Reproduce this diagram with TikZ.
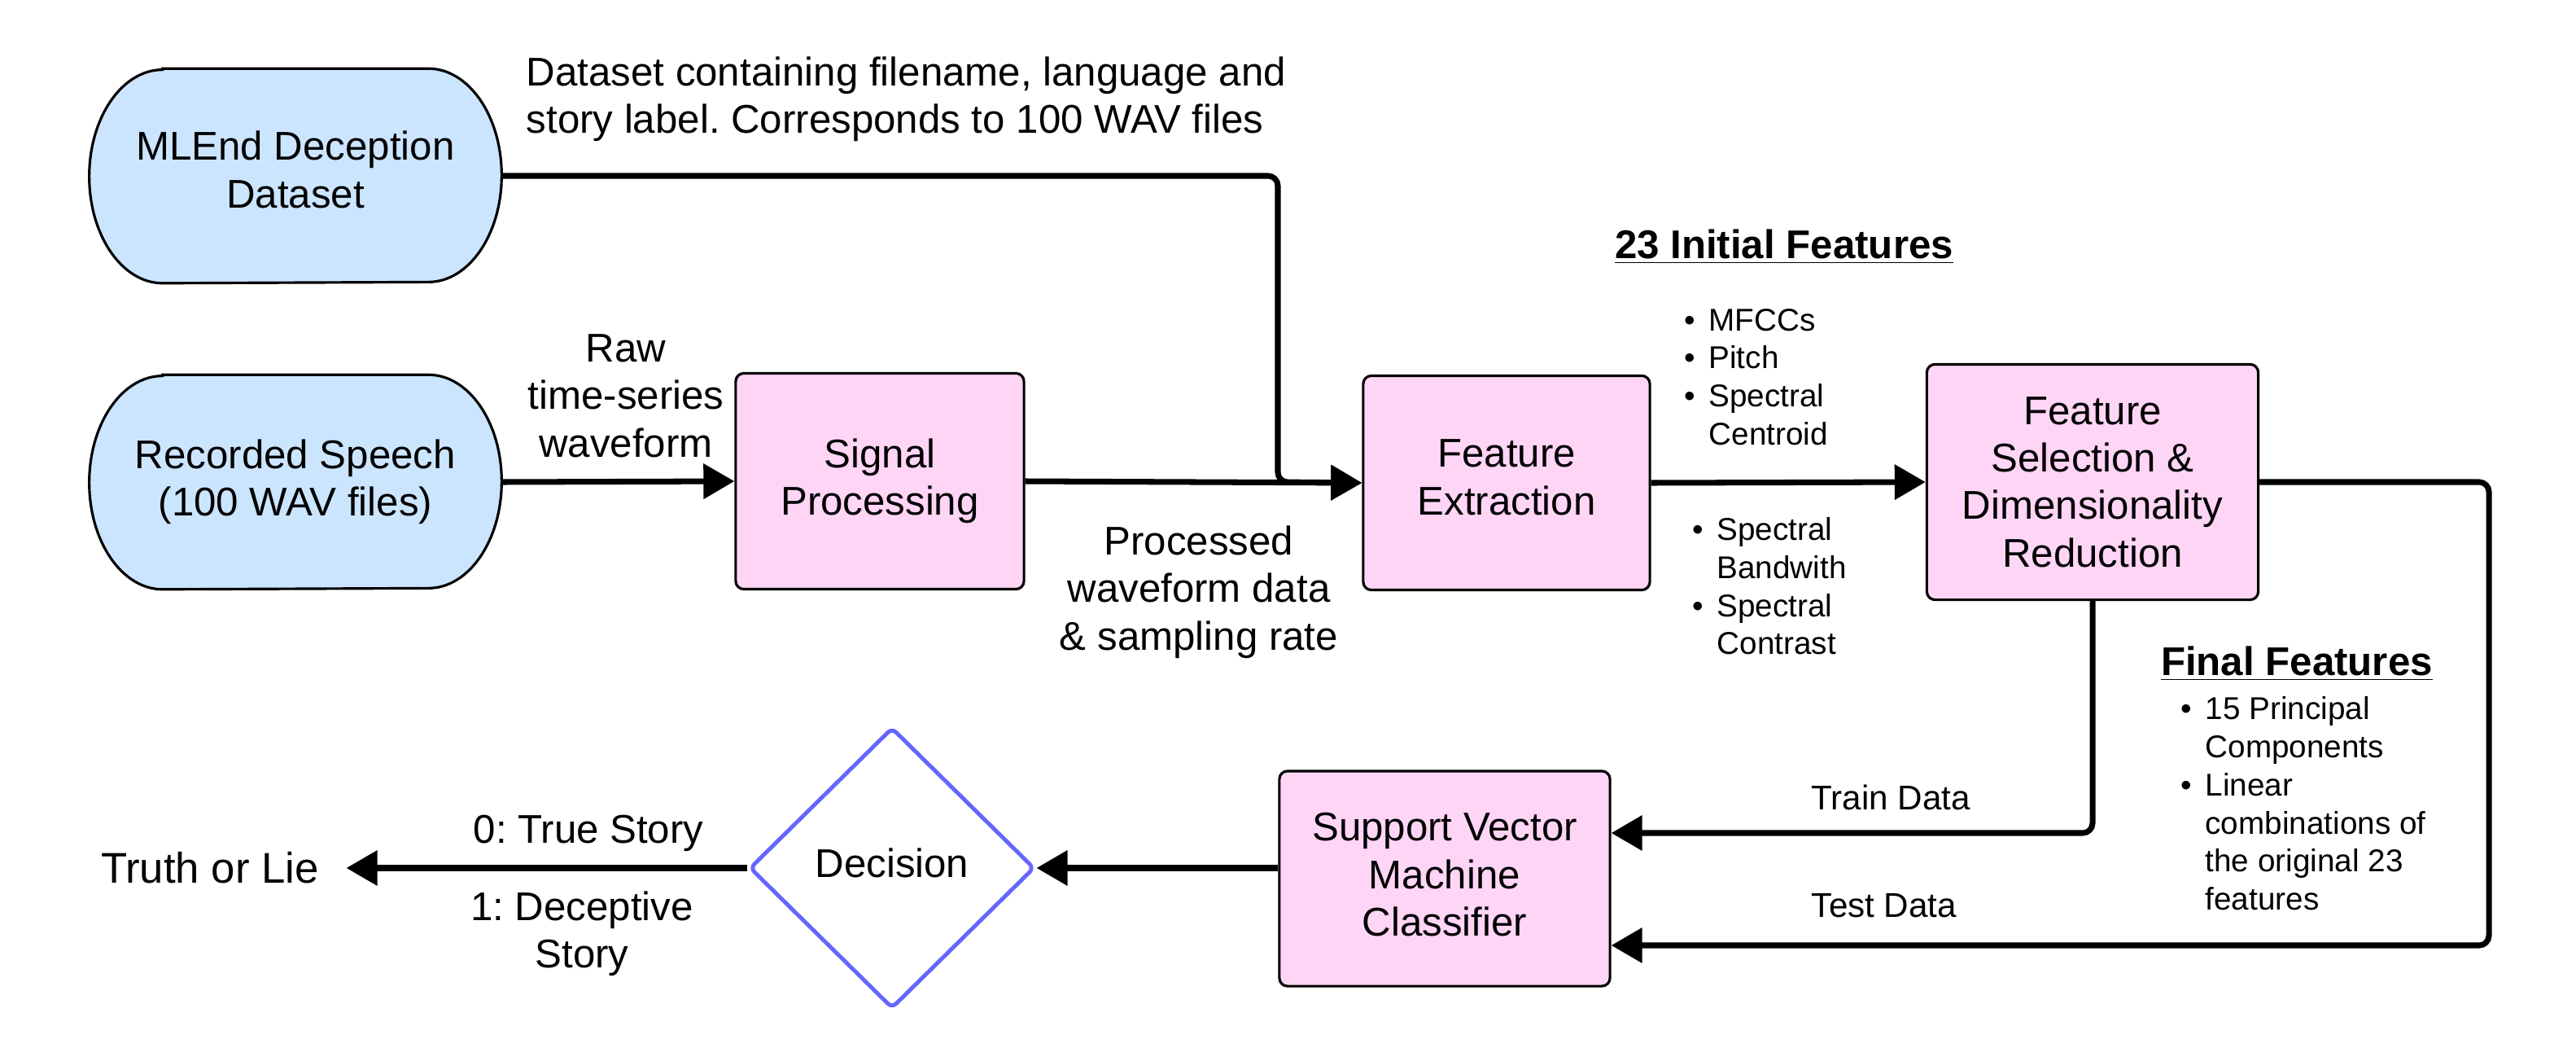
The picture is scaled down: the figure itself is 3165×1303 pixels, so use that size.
\documentclass[tikz,border=0pt]{standalone}
\usepackage{fontspec}
\setmainfont{Liberation Sans}
\usetikzlibrary{shapes.geometric,arrows.meta,calc,backgrounds}
\definecolor{bluefill}{HTML}{CCE5FF}
\definecolor{pinkfill}{HTML}{FFD5F6}
\definecolor{decblue}{HTML}{6666FF}
\newcommand\fbig{\fontsize{14}{16.6}\selectfont}
\newcommand\fmid{\fontsize{12}{14.4}\selectfont}
\newcommand\fsmall{\fontsize{11}{13.3}\selectfont}
\newcommand\bu{\makebox[8.5pt][l]{•}}
\newcommand\nb{\hspace*{8.5pt}}
\newcommand\dn[1]{\rule[-#1]{0pt}{0pt}}
\newcommand\stadiumpath[1]{%
 \path[draw=black,line width=0.9pt,fill=bluefill]
  ($(#1.north west)+(0.9cm,0)$) -- ($(#1.north east)+(-0.9cm,0)$)
  arc[start angle=90,end angle=-90,x radius=0.9cm,y radius=1.31cm]
  -- ($(#1.south west)+(0.9cm,0)$)
  arc[start angle=270,end angle=90,x radius=0.9cm,y radius=1.31cm] -- cycle;}
\tikzset{
 stad/.style={align=center,font=\fbig,inner sep=0,minimum width=5.05cm,minimum height=2.62cm},
 proc/.style={draw,line width=0.9pt,fill=pinkfill,rounded corners=0.1cm,align=center,font=\fbig,inner sep=0},
 conn/.style={line width=2pt,-{Triangle[length=0.38cm,width=0.42cm]},rounded corners=0.12cm},
 lbl/.style={align=center,font=\fbig,inner sep=0},
 mlab/.style={align=center,font=\fmid,inner sep=0},
 head/.style={font=\fontsize{14}{16.8}\selectfont\bfseries,inner sep=0},
 blist/.style={align=left,font=\fsmall,inner sep=0}
}
\begin{document}
\frenchspacing
\begin{tikzpicture}[x=0.01cm,y=0.01cm]
\useasboundingbox (0,0) rectangle (3165,-1303);
\node[stad] (mled) at (363,-216) {MLEnd Deception\\Dataset\dn{0.16cm}};
\node[stad] (rs) at (363,-592) {Recorded Speech\\(100 WAV files)\dn{0.1cm}};
\begin{pgfonlayer}{background}
\stadiumpath{mled}
\stadiumpath{rs}
\end{pgfonlayer}
\node[proc,minimum width=3.54cm,minimum height=2.65cm] (sp) at (1081,-591) {Signal\\Processing\dn{0.08cm}};
\node[proc,minimum width=3.52cm,minimum height=2.63cm] (fe) at (1851,-593) {Feature\\Extraction\dn{0.14cm}};
\node[proc,minimum width=4.07cm,minimum height=2.89cm] (fs) at (2571,-592) {Feature\\Selection \&\\Dimensionality\\Reduction};
\node[proc,minimum width=4.06cm,minimum height=2.64cm] (svm) at (1775,-1079) {Support Vector\\Machine\\Classifier\dn{0.1cm}};
\node[diamond,draw=decblue,line width=1.4pt,rounded corners=2pt,minimum width=3.5cm,minimum height=3.45cm,inner sep=0,font=\fbig] (dec) at (1096,-1066) {Decision\dn{0.12cm}};
\node[font=\fontsize{15}{18}\selectfont,inner sep=0] (truth) at (258,-1066) {Truth or Lie};

\coordinate (j1) at (1570,-592);
\draw[conn] (mled.east) -| (j1) -- (fe.west);
\draw[conn] (rs.east) -- (sp.west);
\draw[conn] (sp.east) -- (fe.west);
\draw[conn] (fe.east) -- (fs.west);
\coordinate (j2) at (3058,-1161);
\draw[conn] (fs.east) -| (j2) -- (svm.east |- j2);
\coordinate (j3) at (2571,-1023);
\draw[conn] (fs.south) -- (j3) -- (svm.east |- j3);
\draw[conn] (svm.west |- dec.east) -- (dec.east);
\draw[conn,shorten >=0.33cm] (dec.west) -- (truth.east);

\node[lbl,anchor=west,align=left] (dlab) at (646,-122) {Dataset containing filename, language and\\story label. Corresponds to 100 WAV files};
\node[lbl] (rawlab) at (769,-486) {Raw\\time-series\\waveform};
\node[lbl] (proclab) at (1473,-727) {Processed\\waveform data\\\& sampling rate};
\node[head] (h1) at (2192,-303) {\underline{23 Initial Features}};
\node[blist,anchor=west] (b1) at (2069,-463) {\bu MFCCs\\\bu Pitch\\\bu Spectral\\\nb Centroid};
\node[blist,anchor=west] (b2) at (2079,-720) {\bu Spectral\\\nb Bandwith\\\bu Spectral\\\nb Contrast};
\node[head] (h2) at (2822,-815) {\underline{Final Features}};
\node[blist,anchor=west] (b3) at (2679,-987) {\bu 15 Principal\\\nb Components\\\bu Linear\\\nb combinations of\\\nb the original 23\\\nb features};
\node[mlab] (train) at (2323,-979) {Train Data};
\node[mlab] (test) at (2315,-1112) {Test Data};
\node[lbl] (t0) at (723,-1023) {0: True Story};
\node[lbl] (t1) at (715,-1147) {1: Deceptive\\Story};
\end{tikzpicture}
\end{document}
